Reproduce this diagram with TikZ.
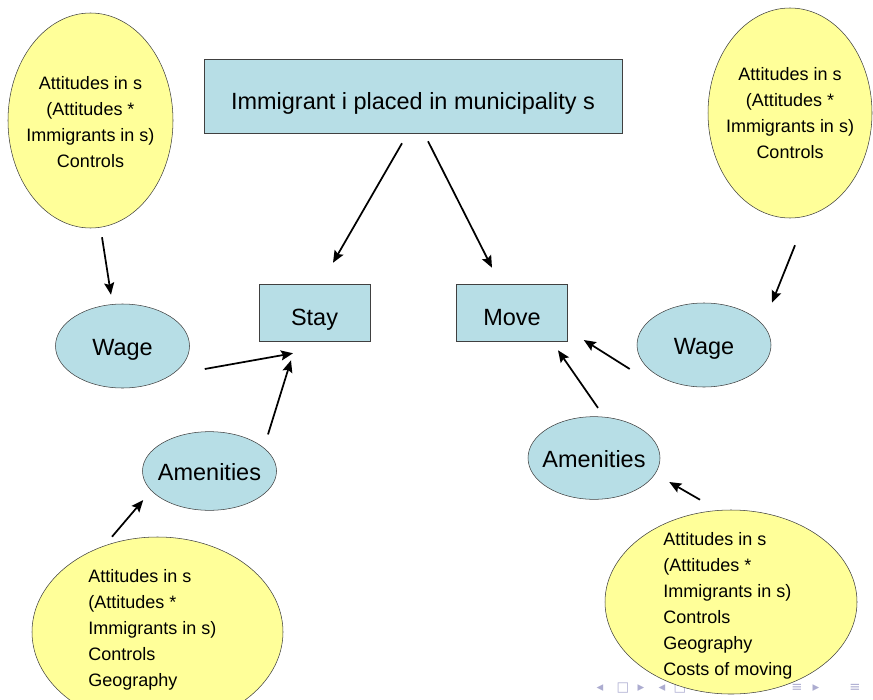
\documentclass[tikz,border=0pt]{standalone}
\usepackage{fontspec}
\setmainfont{Liberation Sans}
\newfontfamily\navfont{DejaVu Sans}
\usetikzlibrary{shapes.geometric,arrows.meta}
\definecolor{boxcyan}{RGB}{183,222,230}
\definecolor{attyellow}{RGB}{255,255,153}
\definecolor{navgray}{RGB}{172,172,208}
\tikzset{
  box/.style={draw=black!75,fill=boxcyan,rectangle,inner sep=0pt,font=\fontsize{17.6}{21}\selectfont},
  oval/.style={draw=black!75,fill=boxcyan,ellipse,inner sep=0pt,minimum width=100.5pt,minimum height=61pt},
  ovaltext/.style={inner sep=0pt,text height=17.25pt,text depth=3.75pt,font=\fontsize{17.6}{21}\selectfont},
  att/.style={draw=black!75,fill=attyellow,ellipse,inner sep=0pt},
  atttext/.style={inner sep=0pt,font=\fontsize{13.5}{19.5}\selectfont},
  arr/.style={-{Stealth[length=9pt,width=7.5pt,inset=1.5pt]},line width=1.3pt},
  nav/.style={inner sep=0pt,text=navgray,font=\navfont\fontsize{10}{10}\selectfont},
}
\begin{document}
\begin{tikzpicture}[x=0.75pt,y=-0.75pt]
  \useasboundingbox (0,0) rectangle (873,699);
  \clip (0,0) rectangle (873,699);
  % beamer navigation
  \foreach \x/\s [count=\i] in {600/◂,623/□,641/▸,662/◂,680/□,797/≡,816/▸,855/≡}
    \node[nav] (nav\i) at (\x,688) {\s};
  % top row
  \node[box,minimum width=313.5pt,minimum height=55.5pt,text height=24pt,text depth=3.75pt] (main) at (413,96) {Immigrant i placed in municipality s};
  \node[att,minimum width=123.75pt,minimum height=161.25pt] (attTL) at (90.5,120.5) {};
  \node[atttext,align=center] (attTLtext) at (90.5,122) {Attitudes in s\\(Attitudes *\\Immigrants in s)\\Controls};
  \node[att,minimum width=123pt,minimum height=157.5pt] (attTR) at (790,113) {};
  \node[atttext,align=center] (attTRtext) at (790,113) {Attitudes in s\\(Attitudes *\\Immigrants in s)\\Controls};
  % outcomes
  \node[box,minimum width=83.25pt,minimum height=42.75pt,text height=22.5pt,text depth=3.75pt] (stay) at (314.5,312.5) {Stay};
  \node[box,minimum width=83.25pt,minimum height=42.75pt,text height=22.5pt,text depth=3.75pt] (move) at (512,312.5) {Move};
  % channels
  \node[oval,minimum height=63pt] (wageL) at (122.5,346) {};
  \node[ovaltext] (wageLtext) at (wageL) {Wage};
  \node[oval,minimum height=63pt] (wageR) at (704,345) {};
  \node[ovaltext] (wageRtext) at (wageR) {Wage};
  \node[oval,minimum height=59pt] (amenL) at (209.5,471) {};
  \node[ovaltext] (amenLtext) at (amenL) {Amenities};
  \node[oval,minimum width=99pt,minimum height=62pt] (amenR) at (594,458) {};
  \node[ovaltext] (amenRtext) at (amenR) {Amenities};
  % bottom row
  \node[att,minimum width=188.25pt,minimum height=142.5pt] (attBL) at (157.5,632) {};
  \node[atttext,align=left,anchor=west] (attBLtext) at (88,630) {Attitudes in s\\(Attitudes *\\Immigrants in s)\\Controls\\Geography};
  \node[att,minimum width=189pt,minimum height=138pt] (attBR) at (731,602) {};
  \node[atttext,align=left,anchor=west] (attBRtext) at (663,605.5) {Attitudes in s\\(Attitudes *\\Immigrants in s)\\Controls\\Geography\\Costs of moving};
  % arrows
  \draw[arr] ([shift={(-11,10)}]main.south) -- ([shift={(18.5,-21)}]stay.north);
  \draw[arr] ([shift={(15,8)}]main.south) -- ([shift={(-20,-16)}]move.north);
  \draw[arr] ([shift={(11.5,9)}]attTL.south) -- ([shift={(-11.5,-9)}]wageL.north);
  \draw[arr] ([shift={(15,23)}]wageL.east) -- ([shift={(-21.5,12)}]stay.south);
  \draw[arr] ([shift={(58.5,3)}]amenL.north) -- ([shift={(-23.5,19)}]stay.south);
  \draw[arr] ([shift={(-45.5,0)}]attBL.north) -- ([shift={(1,29)}]amenL.west);
  \draw[arr] ([shift={(5,27)}]attTR.south) -- ([shift={(68,0)}]wageR.north);
  \draw[arr] ([shift={(-7,24)}]wageR.west) -- ([shift={(16,27.5)}]move.east);
  \draw[arr] ([shift={(4,-8.5)}]amenR.north) -- ([shift={(46,9)}]move.south);
  \draw[arr] ([shift={(-31,-10)}]attBR.north) -- ([shift={(9,24)}]amenR.east);
\end{tikzpicture}
\end{document}
